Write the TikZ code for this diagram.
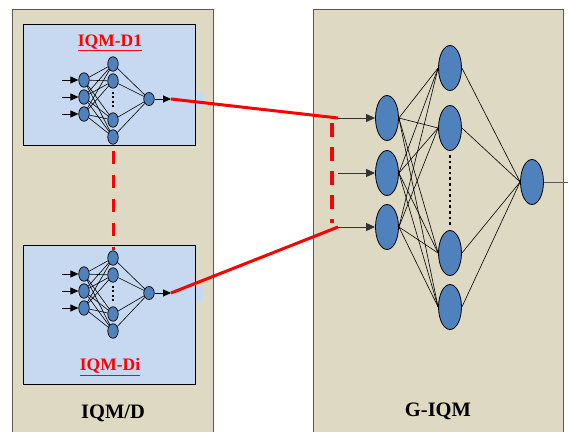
\documentclass[tikz,border=0pt]{standalone}
\usepackage{fontspec}
\setmainfont{Liberation Serif}
\usetikzlibrary{shapes.geometric,arrows.meta}
\definecolor{beige}{RGB}{221,217,195}
\definecolor{lblue}{RGB}{198,217,241}
\definecolor{nblue}{RGB}{79,129,189}
\definecolor{pborder}{RGB}{90,90,90}
\tikzset{
  panel/.style={draw=pborder,line width=1pt},
  inbox/.style={draw=black,line width=0.9pt,fill=lblue},
  sn/.style={ellipse,draw=black,line width=0.7pt,fill=nblue,minimum width=10.5pt,minimum height=14.5pt,inner sep=0pt},
  snout/.style={sn,minimum height=13pt},
  bn/.style={ellipse,draw=black,line width=0.8pt,fill=nblue,minimum width=23pt,minimum height=45pt,inner sep=0pt},
  wire/.style={draw=black,line width=0.6pt},
  inarrow/.style={draw=black,line width=0.9pt,-{Triangle[length=8pt,width=7pt]}},
  biginarrow/.style={draw=black!80,line width=1pt,-{Triangle[length=9pt,width=8pt]}},
  redline/.style={draw=red,line width=3pt},
  reddash/.style={draw=red,line width=3pt,dash pattern=on 13pt off 11pt,dash phase=18pt},
  reddashg/.style={draw=red,line width=3.5pt,dash pattern=on 14pt off 10pt},
  smalldots/.style={draw=black,line width=2pt,dash pattern=on 2pt off 2.5pt},
  bigdots/.style={draw=black,line width=2.6pt,dash pattern=on 2.6pt off 3pt},
  title/.style={text=red,font=\fontsize{17.5}{20}\selectfont\bfseries},
  label/.style={text=black,font=\fontsize{20.5}{24}\selectfont\bfseries},
}
\newcommand\leftnet[2]{%
  \foreach \k/\yy in {1/80,2/97,3/114}{
    \node[sn] (#1i\k) at (84,\yy+#2) {};
    \coordinate (#1a\k) at (62,\yy+#2);
  }
  \foreach \k/\yy in {1/64,2/81,3/120,4/137}{
    \node[sn] (#1h\k) at (113,\yy+#2) {};
  }
  \node[snout] (#1o) at (149,99+#2) {};
  \coordinate (#1e) at (171,99+#2);
  \foreach \k in {1,2,3}{
    \path[inarrow] (#1a\k) -- (#1i\k.west);
    \foreach \j in {1,2,3,4}{ \path[wire] (#1i\k) -- (#1h\j); }
  }
  \foreach \j in {1,2,3,4}{ \path[wire] (#1h\j) -- (#1o); }
  \path[inarrow] (#1o.east) -- (#1e);
  \path[smalldots] ([yshift=-3pt]#1h2.south) -- ([yshift=3pt]#1h3.north);
}
\begin{document}
\begin{tikzpicture}[x=1pt,y=-1pt]
\useasboundingbox (0,0) rectangle (568,432);
% left panel
\fill[beige] (12,9) rectangle (213,432);
\draw[panel] (12,432) -- (12,9) -- (213,9) -- (213,432);
% right panel
\fill[beige] (313,9) rectangle (563,432);
\draw[panel] (313,432) -- (313,9) -- (563,9) -- (563,432);
% inner boxes
\fill[lblue] (195,92) rectangle (203,107);
\draw[inbox] (23,24) rectangle (195,145);
\fill[lblue] (195,287) rectangle (203,302);
\draw[inbox] (23,245) rectangle (195,384);
% left networks
\leftnet{da}{0}
\leftnet{db}{194}
% G-IQM network
\foreach \k/\yy in {1/118,2/173,3/227}{
  \node[bn] (gi\k) at (387,\yy) {};
  \coordinate (ga\k) at (338,\yy);
}
\foreach \k/\yy in {1/68,2/128,3/253,4/307}{
  \node[bn] (gh\k) at (450,\yy) {};
}
\node[bn] (go) at (532,182) {};
\coordinate (gend) at (568,182);
\foreach \k in {1,2,3}{
  \path[biginarrow] (ga\k) -- (gi\k.west);
  \foreach \j in {1,2,3,4}{ \path[wire] (gi\k.east) -- (gh\j.west); }
}
\foreach \j in {1,2,3,4}{ \path[wire] (gh\j.east) -- (go.west); }
\draw[pborder,line width=1pt] (go.east) -- (gend);
\path[bigdots] ([yshift=-4pt]gh2.south) -- ([yshift=4pt]gh3.north);
% red connectors
\coordinate (rt) at (332,123);
\coordinate (rb) at (332,223);
\path[redline] (dae) -- (ga1);
\path[redline] (dbe) -- (ga3);
\path[reddashg] (rt) -- (rb);
\path[reddash] (dah4.south) -- (dbh1.north);
% texts
\node[title] (t1) at (110,43) {\underline{IQM-D1}};
\node[title] (t2) at (110,367) {\underline{IQM-Di}};
\node[label] (l1) at (113,413) {IQM/D};
\node[label] (l2) at (438,411) {G-IQM};
\end{tikzpicture}
\end{document}
